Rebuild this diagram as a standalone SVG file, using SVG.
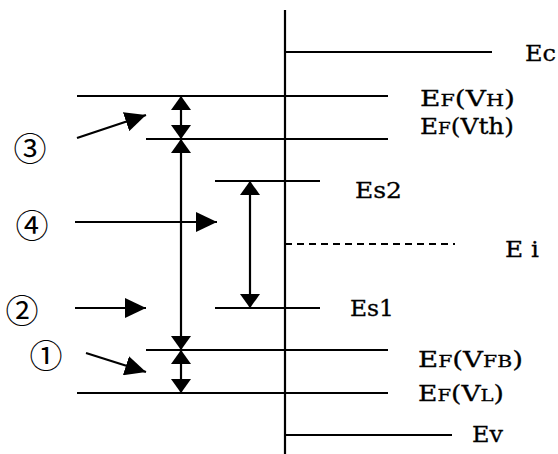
<svg xmlns="http://www.w3.org/2000/svg" width="558" height="454" viewBox="0 0 558 454">
<style>
.ln{stroke:#000;stroke-width:2.2;fill:none}
.dash{stroke:#000;stroke-width:2.2;fill:none;stroke-dasharray:7 5}
.arr{stroke:#000;stroke-width:2.2;fill:none;marker-start:url(#head);marker-end:url(#head)}
.harr{stroke:#000;stroke-width:2.2;fill:none;marker-end:url(#big)}
.lbl{font-family:"DejaVu Serif","Liberation Serif",serif;font-size:23px;fill:#000;stroke:#000;stroke-width:0.3}
.sc{font-size:17px}
.num{font-family:"Noto Sans CJK JP","DejaVu Sans",sans-serif;font-size:33px;fill:#000}
</style>
<defs>
<marker id="head" markerUnits="userSpaceOnUse" markerWidth="14" markerHeight="20" viewBox="0 0 14 20" refX="14" refY="10" orient="auto-start-reverse"><path d="M0,0 L14,10 L0,20 z" fill="#000"/></marker>
<marker id="big" markerUnits="userSpaceOnUse" markerWidth="21" markerHeight="20" viewBox="0 0 21 20" refX="21" refY="10" orient="auto"><path d="M0,0 L21,10 L0,20 z" fill="#000"/></marker>
</defs>
<rect width="558" height="454" fill="#fff"/>
<g id="axis"><line class="ln" x1="285" y1="10" x2="285" y2="454"/></g>
<g id="Ec"><line class="ln" x1="285" y1="52" x2="492" y2="52"/><text class="lbl" x="525" y="61" textLength="31" lengthAdjust="spacingAndGlyphs">Ec</text></g>
<g id="EF_VH"><line class="ln" x1="77" y1="96" x2="388" y2="96"/><text class="lbl" x="420" y="106" textLength="95" lengthAdjust="spacingAndGlyphs">E<tspan class="sc">F</tspan>(V<tspan class="sc">H</tspan>)</text></g>
<g id="EF_Vth"><line class="ln" x1="146" y1="139" x2="388" y2="139"/><text class="lbl" x="420" y="134" textLength="94" lengthAdjust="spacingAndGlyphs">E<tspan class="sc">F</tspan>(Vth)</text></g>
<g id="Es2"><line class="ln" x1="215" y1="181" x2="320" y2="181"/><text class="lbl" x="355" y="198" textLength="47" lengthAdjust="spacingAndGlyphs">Es2</text></g>
<g id="Ei"><line class="dash" x1="285" y1="244" x2="455" y2="244"/><text class="lbl" x="505" y="257" textLength="34" lengthAdjust="spacingAndGlyphs">E i</text></g>
<g id="Es1"><line class="ln" x1="215" y1="308" x2="320" y2="308"/><text class="lbl" x="350" y="316" textLength="44" lengthAdjust="spacingAndGlyphs">Es1</text></g>
<g id="EF_VFB"><line class="ln" x1="146" y1="350" x2="388" y2="350"/><text class="lbl" x="418" y="367" textLength="105" lengthAdjust="spacingAndGlyphs">E<tspan class="sc">F</tspan>(V<tspan class="sc">FB</tspan>)</text></g>
<g id="EF_VL"><line class="ln" x1="77" y1="393" x2="388" y2="393"/><text class="lbl" x="418" y="401" textLength="86" lengthAdjust="spacingAndGlyphs">E<tspan class="sc">F</tspan>(V<tspan class="sc">L</tspan>)</text></g>
<g id="Ev"><line class="ln" x1="285" y1="435" x2="452" y2="435"/><text class="lbl" x="472" y="442" textLength="31" lengthAdjust="spacingAndGlyphs">Ev</text></g>
<g id="n3"><text class="num" x="30" y="147" text-anchor="middle" dominant-baseline="central">③</text></g>
<g id="n4"><text class="num" x="32" y="224" text-anchor="middle" dominant-baseline="central">④</text></g>
<g id="n2"><text class="num" x="22" y="309" text-anchor="middle" dominant-baseline="central">②</text></g>
<g id="n1"><text class="num" x="46" y="354" text-anchor="middle" dominant-baseline="central">①</text></g>
<g id="connectors">
<line class="arr" x1="181" y1="96" x2="181" y2="139"/>
<line class="arr" x1="181" y1="139" x2="181" y2="350"/>
<line class="arr" x1="181" y1="350" x2="181" y2="393"/>
<line class="arr" x1="250" y1="181" x2="250" y2="308"/>
<line class="harr" x1="77" y1="138" x2="146" y2="115"/>
<line class="harr" x1="75" y1="222" x2="217" y2="222"/>
<line class="harr" x1="75" y1="308" x2="146" y2="308"/>
<line class="harr" x1="86" y1="353" x2="146" y2="372"/>
</g>
</svg>
